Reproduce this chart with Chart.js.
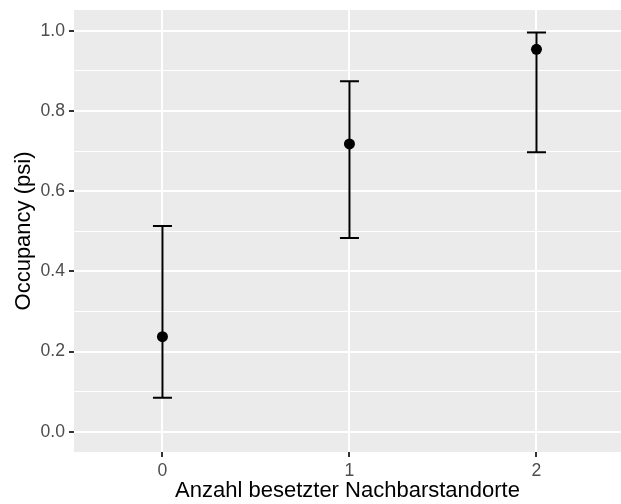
<!DOCTYPE html>
<html>
<head>
<meta charset="utf-8">
<script src="https://cdn.jsdelivr.net/npm/chart.js@4/dist/chart.umd.min.js"></script>
<style>
  html, body { margin: 0; padding: 0; background: #ffffff; }
  #wrap { width: 621px; height: 504px; }
</style>
</head>
<body>
<div id="wrap"><canvas id="occChart" width="621" height="504"></canvas></div>
<script>
// occupancy estimate per number of occupied neighbour sites, with CI
const neighbours = [0, 1, 2];
const psiEstimate = [0.237, 0.718, 0.954];
const psiLower = [0.085, 0.483, 0.697];
const psiUpper = [0.513, 0.874, 0.996];
const yBreaks = [0, 0.2, 0.4, 0.6, 0.8, 1.0];
const yMinorBreaks = [0.1, 0.3, 0.5, 0.7, 0.9];

const isMajor = v => yBreaks.some(b => Math.abs(b - v) < 1e-6);

// grey ggplot-style panel behind the grid
const panelBackground = {
    id: 'panelBackground',
    beforeDraw(chart) {
        const { ctx, chartArea } = chart;
        ctx.save();
        ctx.fillStyle = '#EBEBEB';
        ctx.fillRect(chartArea.left, chartArea.top, chartArea.right - chartArea.left, chartArea.bottom - chartArea.top);
        ctx.restore();
    }
};

// vertical error bars with caps
const errorBars = {
    id: 'errorBars',
    afterDatasetsDraw(chart) {
        const { ctx, scales } = chart;
        ctx.save();
        ctx.strokeStyle = '#000000';
        ctx.lineWidth = 2;
        ctx.lineCap = 'butt';
        neighbours.forEach((n, i) => {
            const x = scales.x.getPixelForValue(n);
            const yLo = scales.y.getPixelForValue(psiLower[i]);
            const yHi = scales.y.getPixelForValue(psiUpper[i]);
            const half = 9.5;
            ctx.beginPath();
            ctx.moveTo(x, yLo);
            ctx.lineTo(x, yHi);
            ctx.moveTo(x - half, yHi);
            ctx.lineTo(x + half, yHi);
            ctx.moveTo(x - half, yLo);
            ctx.lineTo(x + half, yLo);
            ctx.stroke();
        });
        ctx.restore();
    }
};

const ctx = document.getElementById('occChart').getContext('2d');

new Chart(ctx, {
    type: 'scatter',
    data: {
        datasets: [{
            data: neighbours.map((n, i) => ({ x: n, y: psiEstimate[i] })),
            backgroundColor: '#000000',
            borderColor: '#000000',
            pointRadius: 5.5,
            pointHoverRadius: 5.5,
            borderWidth: 0
        }]
    },
    options: {
        responsive: false,
        animation: false,
        layout: {
            autoPadding: false,
            padding: { top: 10, right: 0, left: 0, bottom: 0 }
        },
        plugins: {
            legend: { display: false },
            tooltip: { enabled: false }
        },
        scales: {
            x: {
                type: 'linear',
                min: -0.473,
                max: 2.452,
                afterBuildTicks: scale => {
                    scale.ticks = neighbours.map(v => ({ value: v }));
                },
                afterFit: scale => {
                    scale.height = 52;
                    scale.paddingLeft = 0;
                    scale.paddingRight = 0;
                },
                border: { display: false },
                grid: {
                    color: '#FFFFFF',
                    lineWidth: 2,
                    tickColor: '#333333',
                    tickLength: 5,
                    tickWidth: 2
                },
                ticks: {
                    color: '#4D4D4D',
                    padding: 4,
                    font: { family: 'Liberation Sans', size: 17.6 },
                    callback: v => String(v)
                },
                title: {
                    display: true,
                    text: 'Anzahl besetzter Nachbarstandorte',
                    color: '#000000',
                    padding: { top: 1, bottom: 0 },
                    font: { family: 'Liberation Sans', size: 22 }
                }
            },
            y: {
                min: -0.0506,
                max: 1.052,
                afterBuildTicks: scale => {
                    scale.ticks = yBreaks.concat(yMinorBreaks)
                        .sort((a, b) => a - b)
                        .map(v => ({ value: v }));
                },
                afterFit: scale => {
                    scale.width = 74;
                    scale.paddingTop = 0;
                    scale.paddingBottom = 0;
                },
                border: { display: false },
                grid: {
                    color: '#FFFFFF',
                    lineWidth: c => isMajor(c.tick.value) ? 2 : 1,
                    tickColor: c => isMajor(c.tick.value) ? '#333333' : 'rgba(0,0,0,0)',
                    tickLength: 5,
                    tickWidth: 2
                },
                ticks: {
                    color: '#4D4D4D',
                    padding: 4,
                    autoSkip: false,
                    font: { family: 'Liberation Sans', size: 17.6 },
                    callback: v => isMajor(v) ? v.toFixed(1) : ''
                },
                title: {
                    display: true,
                    text: 'Occupancy (psi)',
                    color: '#000000',
                    padding: { top: 11, bottom: 0 },
                    font: { family: 'Liberation Sans', size: 22 }
                }
            }
        }
    },
    plugins: [panelBackground, errorBars]
});
</script>
</body>
</html>
